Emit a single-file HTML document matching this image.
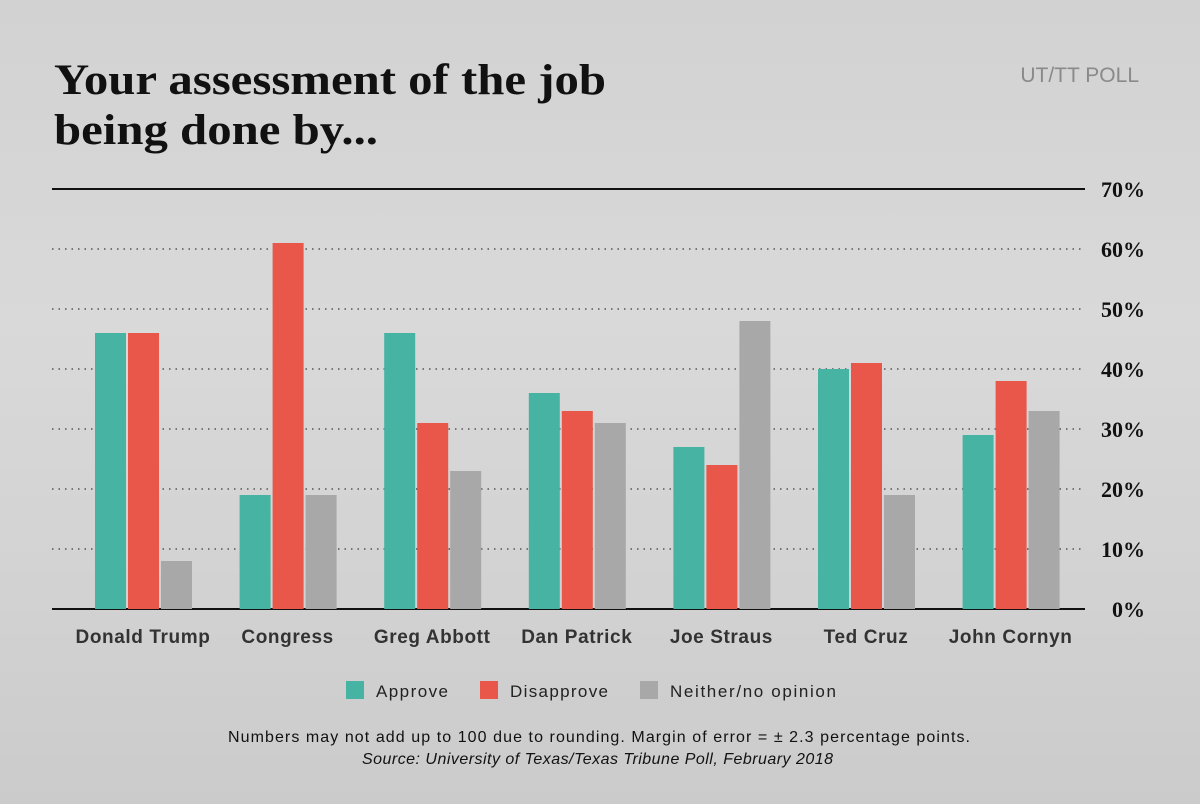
<!DOCTYPE html>
<html><head><meta charset="utf-8"><style>
html,body{margin:0;padding:0}
body{width:1200px;height:804px;overflow:hidden;background:linear-gradient(180deg,#d2d2d2 0%,#d9d9d9 40%,#d3d3d3 70%,#cbcbcb 100%);font-family:"Liberation Sans",sans-serif;position:relative}
</style></head><body>
<svg width="1200" height="804" style="position:absolute;left:0;top:0">
<text x="54" y="94" font-family="Liberation Serif" font-weight="bold" font-size="43" fill="#111" textLength="552" lengthAdjust="spacingAndGlyphs">Your assessment of the job</text>
<text x="54" y="144" font-family="Liberation Serif" font-weight="bold" font-size="43" fill="#111" textLength="324" lengthAdjust="spacingAndGlyphs">being done by...</text>
<text x="1139" y="82" text-anchor="end" font-size="21" fill="#8a8a8a">UT/TT POLL</text>
<g id="grid"></g>
<g id="bars"></g>
<g id="labels"></g>
<g>
<rect x="346" y="681" width="18" height="18" fill="#46b3a3"/>
<text x="376" y="697" font-size="17" fill="#222" textLength="72">Approve</text>
<rect x="480" y="681" width="18" height="18" fill="#e8574a"/>
<text x="510" y="697" font-size="17" fill="#222" textLength="98">Disapprove</text>
<rect x="640" y="681" width="18" height="18" fill="#a8a8a8"/>
<text x="670" y="697" font-size="17" fill="#222" textLength="166">Neither/no opinion</text>
</g>
<text x="228" y="742" font-size="16" fill="#111" textLength="742">Numbers may not add up to 100 due to rounding. Margin of error = ± 2.3 percentage points.</text>
<text x="362" y="764" font-size="16" font-style="italic" fill="#111" textLength="471">Source: University of Texas/Texas Tribune Poll, February 2018</text>
</svg>
<script>
const categories=["Donald Trump","Congress","Greg Abbott","Dan Patrick","Joe Straus","Ted Cruz","John Cornyn"];
const approve=[46,19,46,36,27,40,29];
const disapprove=[46,61,31,33,24,41,38];
const neither=[8,19,23,31,48,19,33];
const ticks=[0,10,20,30,40,50,60,70];
const NS="http://www.w3.org/2000/svg";
const y0=609,pxPer=6,x0=52,x1=1085;
const y=v=>y0-v*pxPer;
const gx=i=>95+i*144.6;
function mk(tag,attrs,parent){const e=document.createElementNS(NS,tag);for(const k in attrs)e.setAttribute(k,attrs[k]);document.getElementById(parent).appendChild(e);return e;}
ticks.forEach(t=>{
  let l;
  if(t===0||t===70){l=mk('line',{x1:x0,x2:x1,y1:y(t),y2:y(t),stroke:'#111','stroke-width':2},'grid');}
  else{l=mk('line',{x1:x0,x2:x1,y1:y(t),y2:y(t),stroke:'#555','stroke-width':1.5,'stroke-dasharray':'1.5 5'},'grid');}
  
  
  const tx=mk('text',{x:1145,y:y(t)+8,'text-anchor':'end','font-family':'Liberation Serif','font-weight':'bold','font-size':22,fill:'#111'},'grid');
  tx.textContent=t+'%';
  
  
});
const series=[[approve,'#46b3a3','approve'],[disapprove,'#e8574a','disapprove'],[neither,'#a8a8a8','neither']];
categories.forEach((c,i)=>{
  series.forEach(([arr,col,nm],j)=>{
    const r=mk('rect',{x:gx(i)+j*33,y:y(arr[i]),width:31,height:arr[i]*pxPer,fill:col},'bars');
    
    
  });
  const t=mk('text',{x:gx(i)+48,y:643,'text-anchor':'middle','font-weight':'bold','font-size':19,'letter-spacing':'0.6',fill:'#333'},'labels');
  t.textContent=c;
  
  
});
</script>
</body></html>
